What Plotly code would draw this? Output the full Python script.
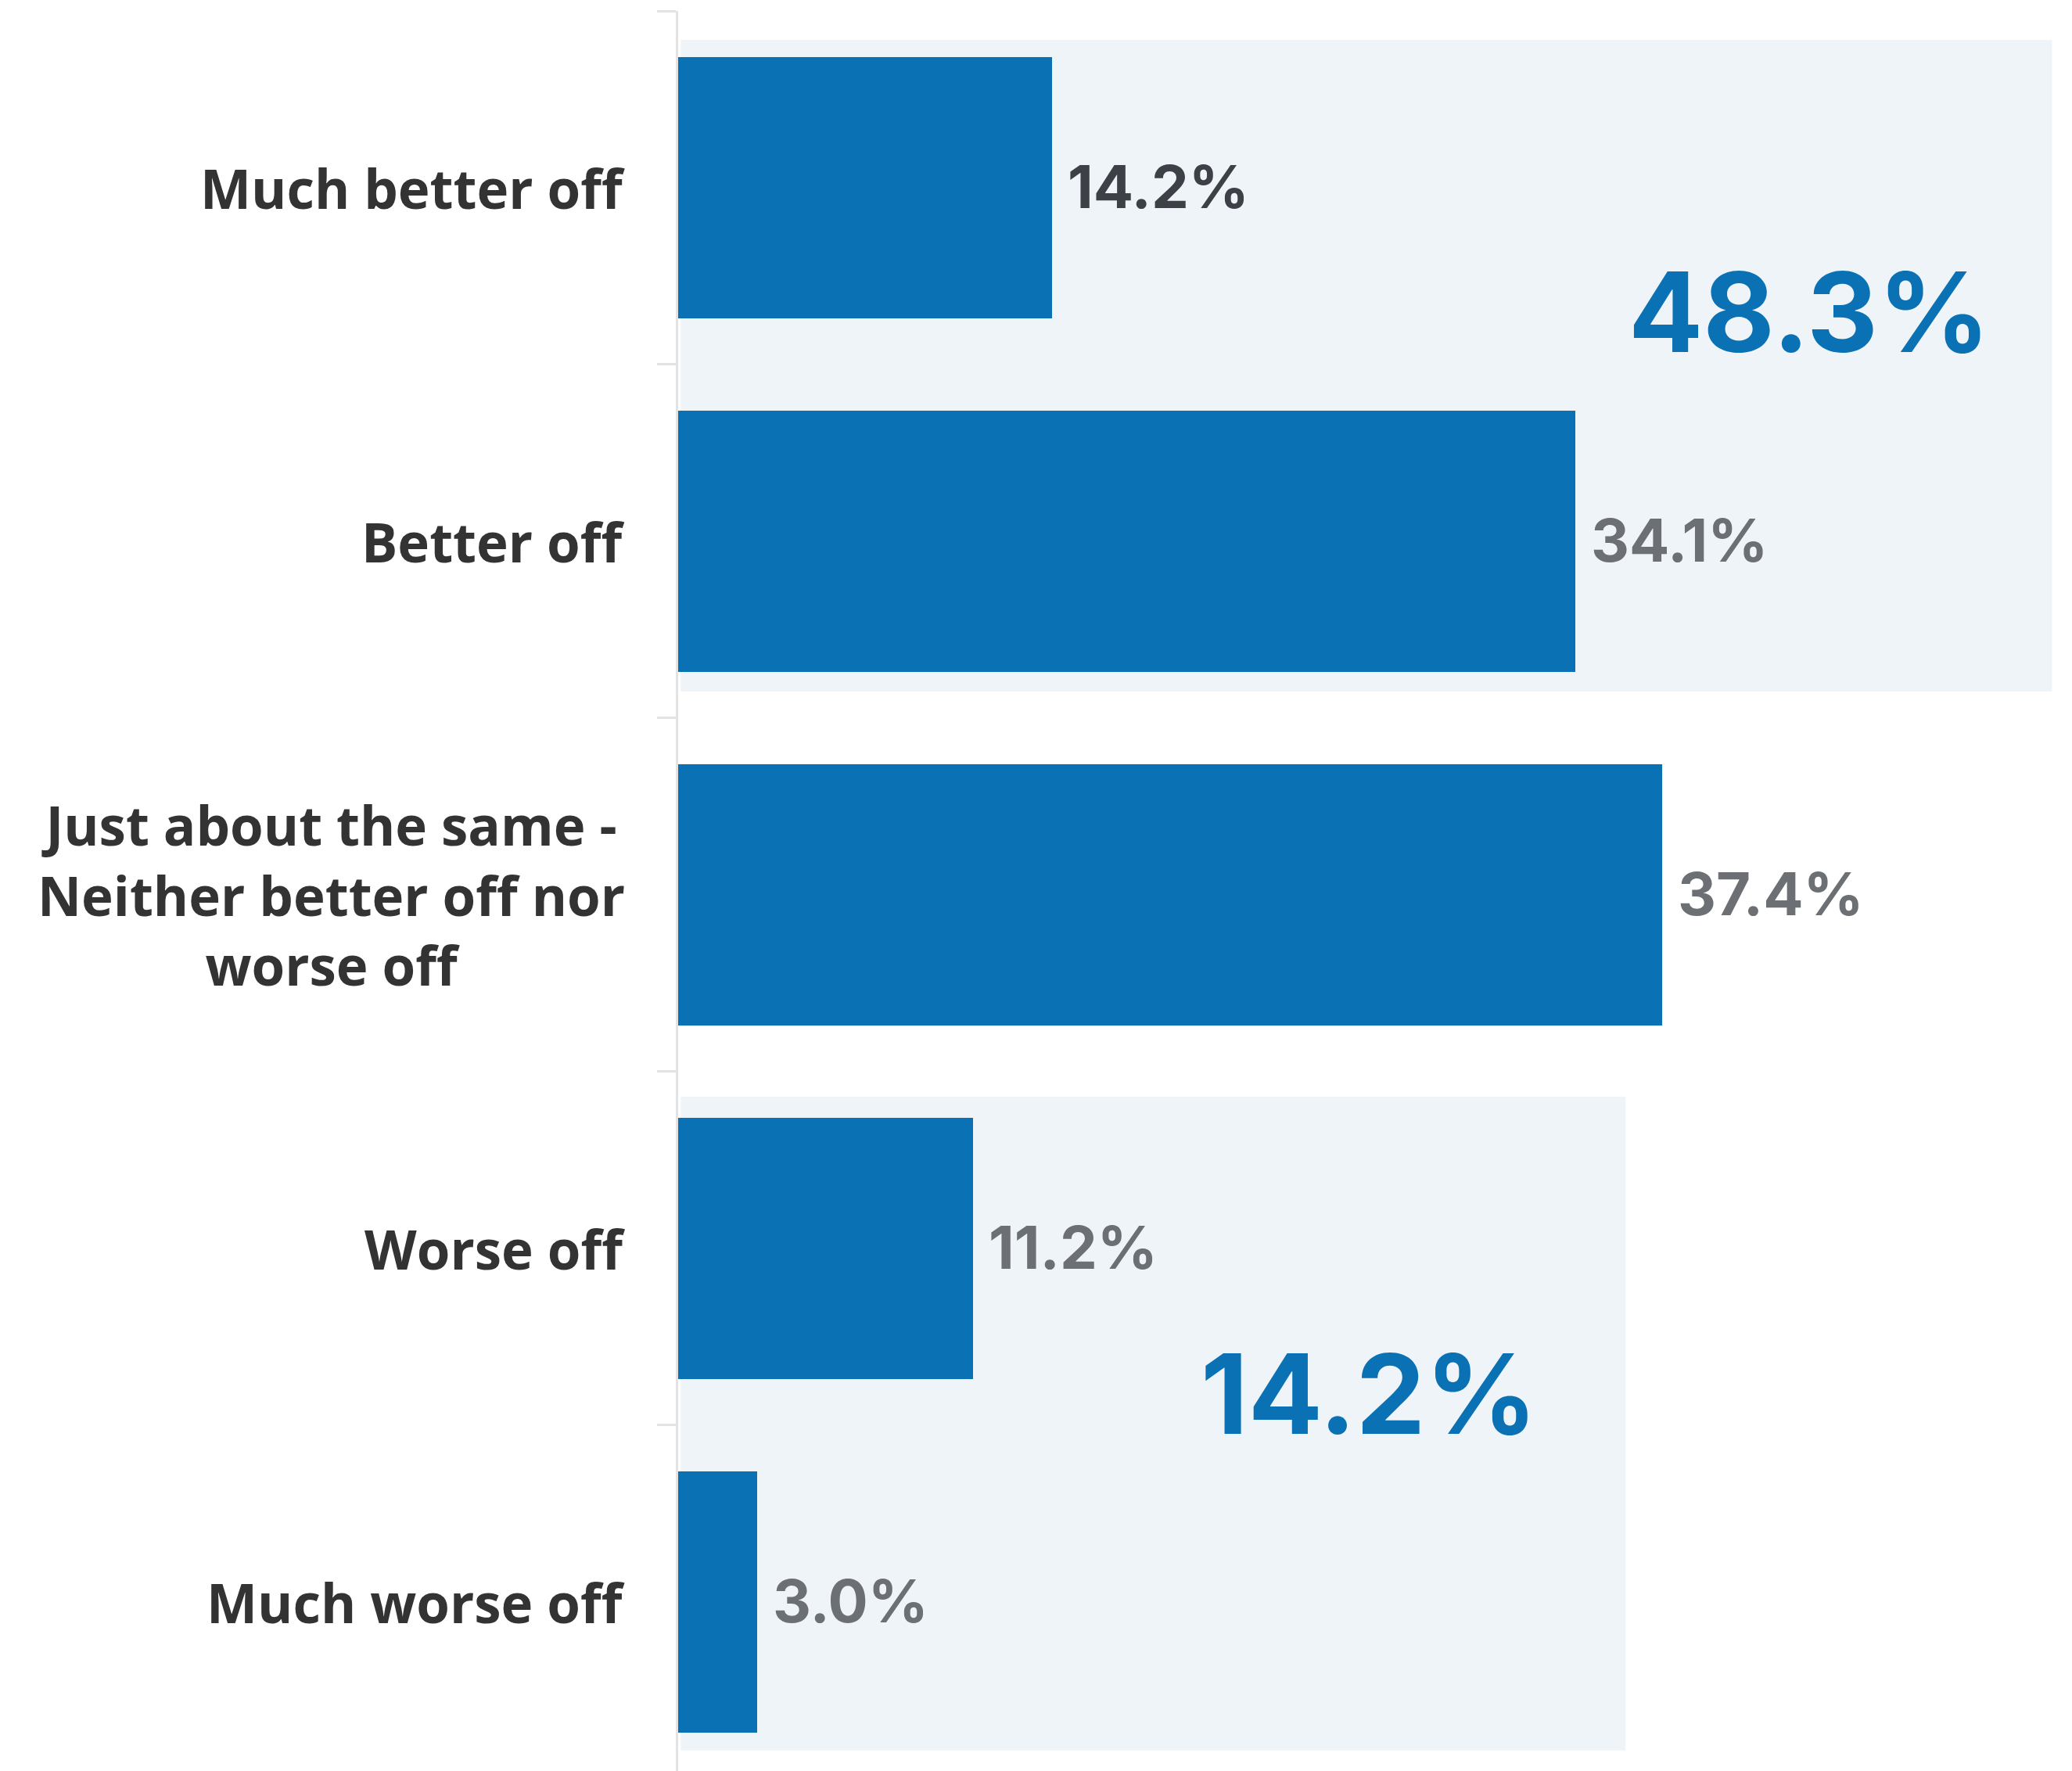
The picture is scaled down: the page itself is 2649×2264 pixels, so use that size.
import plotly.graph_objects as go

# Survey responses: share of respondents per answer
categories = [
    "Much better off",
    "Better off",
    "Just about the same -<br>Neither better off nor<br>worse off",
    "Worse off",
    "Much worse off",
]
shares = [14.2, 34.1, 37.4, 11.2, 3.0]
label_colors = ["#3d4046", "#6c7075", "#6c7075", "#6c7075", "#6c7075"]

BLUE = "#0a72b4"
PANEL = "#eff4f9"
TEXT = "#333333"

better_total = round(shares[0] + shares[1], 1)
worse_total = round(shares[3] + shares[4], 1)

fig = go.Figure()

fig.add_trace(go.Bar(
    x=shares,
    y=categories,
    orientation="h",
    width=0.739,
    marker=dict(color=BLUE, line=dict(width=0)),
    hoverinfo="skip",
))

# light panels grouping the "better" and "worse" answers
fig.add_shape(type="rect", xref="x", yref="y", x0=0.1, x1=52.2, y0=-0.418, y1=1.425,
              fillcolor=PANEL, line=dict(width=0), layer="below")
fig.add_shape(type="rect", xref="x", yref="y", x0=0.1, x1=36.0, y0=2.571, y1=4.42,
              fillcolor=PANEL, line=dict(width=0), layer="below")

annotations = []
# category labels, centred lines, right edge next to the axis
for i, cat in enumerate(categories):
    annotations.append(dict(
        x=0, xref="paper", y=i, yref="y", text=cat,
        xanchor="right", yanchor="middle", align="center", xshift=-66,
        showarrow=False,
        font=dict(family="Open Sans", size=69, color=TEXT, weight="bold"),
    ))

# value labels at the end of each bar
for i, (v, c) in enumerate(zip(shares, label_colors)):
    annotations.append(dict(
        x=v, xref="x", y=i, yref="y", text=f"{v:.1f}%",
        xanchor="left", yanchor="middle", xshift=18, yshift=2,
        showarrow=False,
        font=dict(family="Inter", size=76, color=c, weight="bold"),
    ))

# group totals
annotations.append(dict(
    x=42.97, xref="x", y=0.354, yref="y", text=f"{better_total:.1f}%",
    xanchor="center", yanchor="middle", showarrow=False, yshift=2,
    font=dict(family="Inter", size=141, color=BLUE, weight="bold"),
))
annotations.append(dict(
    x=26.27, xref="x", y=3.415, yref="y", text=f"{worse_total:.1f}%",
    xanchor="center", yanchor="middle", showarrow=False, yshift=2,
    font=dict(family="Inter", size=141, color=BLUE, weight="bold"),
))

fig.update_layout(
    width=2649,
    height=2264,
    margin=dict(l=867, r=0, t=14, b=0),
    paper_bgcolor="white",
    plot_bgcolor="white",
    showlegend=False,
    annotations=annotations,
    bargap=0,
)

fig.update_xaxes(
    range=[0, 52.96],
    showgrid=False, zeroline=False, showline=False,
    showticklabels=False, ticks="",
)
fig.update_yaxes(
    type="category",
    categoryorder="array",
    categoryarray=categories,
    range=[4.478, -0.5],
    showgrid=False, zeroline=False,
    showline=True, linecolor="#e3e3e3", linewidth=3,
    ticks="outside", tickson="boundaries", ticklen=24, tickwidth=3, tickcolor="#e3e3e3",
    showticklabels=False,
)

fig.write_html("out.html")
